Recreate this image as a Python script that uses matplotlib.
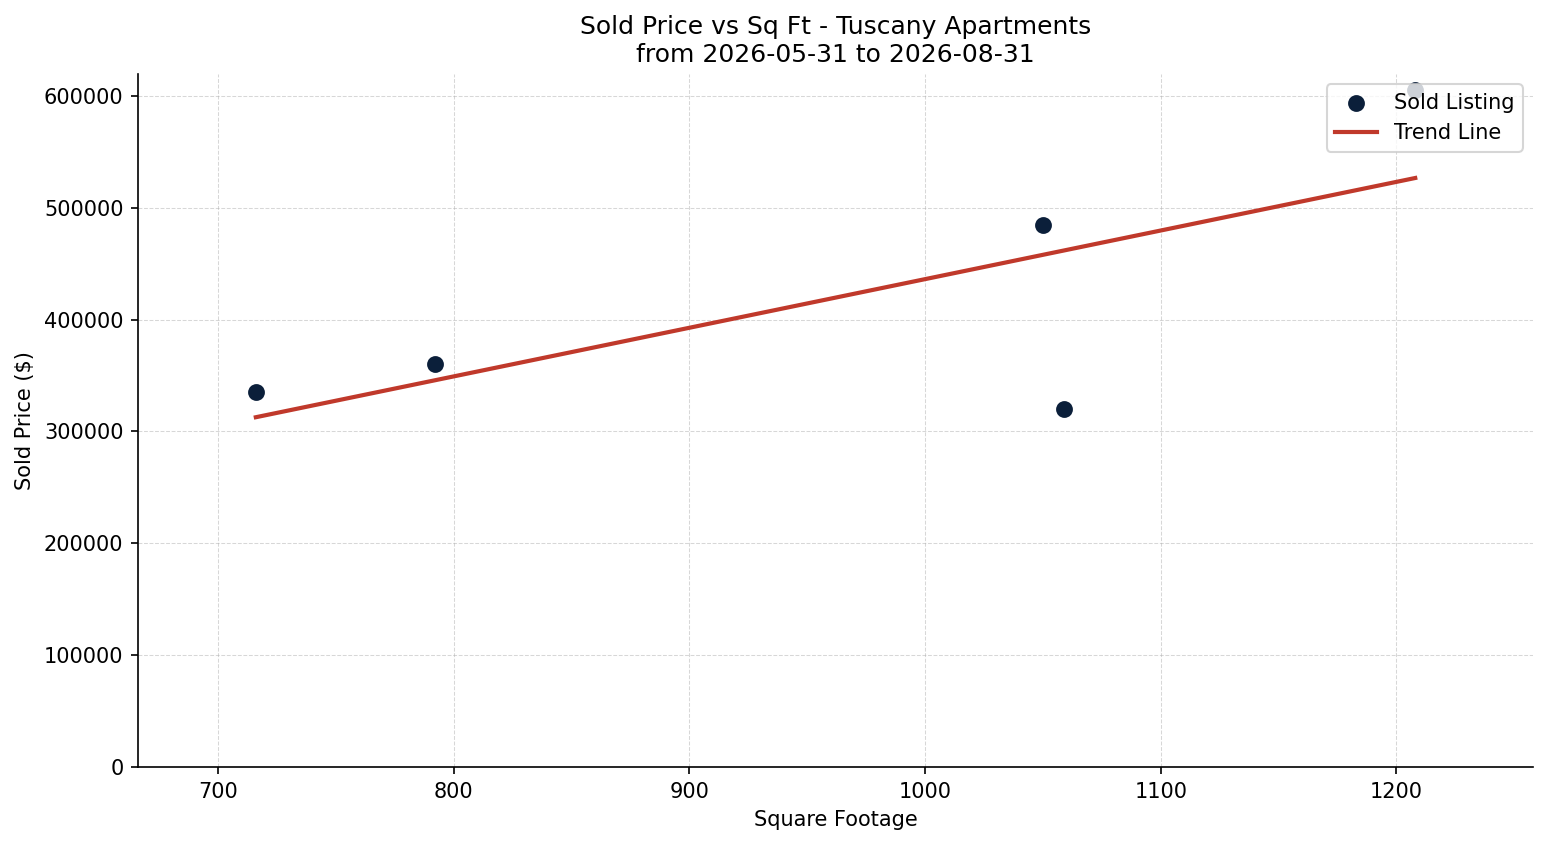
import numpy as np
import matplotlib.pyplot as plt

# ----------------------------
# Sold listings
# ----------------------------
sqft = [716, 792, 1050, 1059, 1208]
sold_price = [335000, 360000, 485000, 320000, 605000]

title = "Sold Price vs Sq Ft - Tuscany Apartments\nfrom 2026-05-31 to 2026-08-31"

fig = plt.figure(figsize=(1547 / 150, 845 / 150), dpi=150)
ax = fig.add_axes([0.0892, 0.0923, 0.9018, 0.8201])

ax.scatter(sqft, sold_price, color='#0b1f3a', s=50, zorder=3, label='Sold Listing')

# linear trend
coef = np.polyfit(sqft, sold_price, 1)
xs = np.array([min(sqft), max(sqft)])
ax.plot(xs, np.polyval(coef, xs), color='#c0392b', linewidth=2, label='Trend Line')

ax.set_xlim(min(sqft) - 50, max(sqft) + 50)
ax.set_ylim(bottom=0)
ax.set_title(title, fontsize=12)
ax.set_xlabel("Square Footage")
ax.set_ylabel("Sold Price ($)")
ax.grid(True, linestyle='--', linewidth=0.5, alpha=0.5)
ax.spines['top'].set_visible(False)
ax.spines['right'].set_visible(False)
ax.legend(loc='upper right')

fig.savefig("out.png", dpi=150)
